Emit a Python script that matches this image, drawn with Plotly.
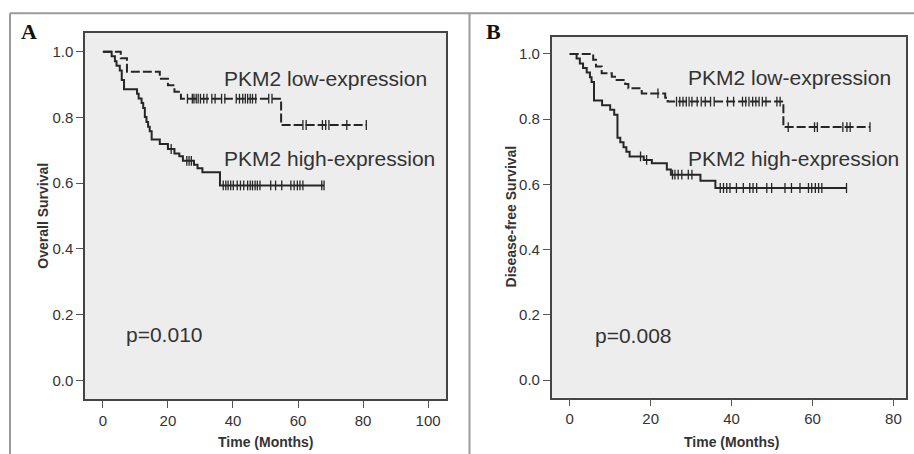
import plotly.graph_objects as go

# ---------------- data ----------------
# Panel A: Overall survival
lowA_event_t = [5.5, 7.4, 17.5, 20.0, 22.0, 24.0, 54.8]
lowA_event_s = [0.980, 0.939, 0.918, 0.898, 0.878, 0.857, 0.777]
lowA_end = 81.0
lowA_censor = [26.0, 27.5, 28.0, 28.7, 29.3, 30.0, 31.0, 32.0, 33.5, 34.5, 36.5, 37.5,
               41.0, 42.0, 43.0, 43.8, 44.5, 45.3, 46.0, 47.0, 51.0, 52.0,
               61.5, 62.5, 67.5, 68.5, 69.5, 75.0, 81.0]

highA_event_t = [2.7, 3.7, 4.2, 5.2, 5.8, 6.5, 10.5, 11.0, 11.9, 12.4, 12.9, 13.4, 13.9, 14.4, 15.0,
                 17.5, 20.0, 22.0, 23.5, 24.6, 28.0, 29.1, 30.6, 36.0]
highA_event_s = [0.986, 0.971, 0.957, 0.943, 0.914, 0.886, 0.872, 0.858, 0.844, 0.829, 0.801, 0.786,
                 0.772, 0.758, 0.733, 0.719, 0.704, 0.690, 0.682, 0.668, 0.656, 0.645, 0.633, 0.593]
highA_end = 68.0
highA_censor = [21.0, 25.8, 26.5, 27.2, 37.0, 37.8, 38.5, 39.3, 40.1, 41.3, 42.3, 43.3, 44.5, 45.3,
                46.0, 46.8, 47.5, 48.3, 51.6, 53.1, 55.0, 57.8, 58.8, 59.8, 60.6, 61.5, 67.3, 68.0]

# Panel B: Disease-free survival
lowB_event_t = [5.8, 6.5, 7.9, 10.4, 11.2, 13.7, 14.5, 17.8, 23.6, 24.2, 52.8]
lowB_event_s = [0.982, 0.962, 0.941, 0.930, 0.920, 0.908, 0.895, 0.879, 0.866, 0.854, 0.776]
lowB_end = 74.2
lowB_censor = [21.8, 26.4, 27.2, 28.0, 28.8, 29.5, 30.2, 31.5, 32.5, 33.5, 34.8, 35.7, 39.0, 40.5,
               42.7, 43.5, 44.3, 45.2, 46.0, 46.8, 47.6, 48.5, 51.2, 52.0,
               54.0, 60.5, 61.2, 67.5, 68.5, 69.3, 74.2]

highB_event_t = [1.7, 2.5, 3.3, 4.2, 5.0, 5.4, 6.0, 8.0, 10.0, 11.0, 11.8, 12.5, 13.3, 14.0, 14.8,
                 18.3, 20.3, 24.0, 25.0, 32.3, 36.0]
highB_event_s = [0.986, 0.971, 0.957, 0.943, 0.929, 0.914, 0.857, 0.843, 0.829, 0.814, 0.743, 0.729,
                 0.714, 0.700, 0.686, 0.675, 0.665, 0.646, 0.630, 0.611, 0.589]
highB_end = 68.4
highB_censor = [17.5, 19.0, 25.4, 26.0, 26.8, 27.7, 29.3, 30.2, 37.2, 38.0, 38.8, 39.6, 41.2, 42.9,
                44.5, 45.3, 46.2, 48.7, 49.9, 53.2, 54.8, 56.9, 59.0, 59.8, 60.7, 61.5, 62.3, 68.4]

x_ticks_A = [0, 20, 40, 60, 80, 100]
x_ticks_B = [0, 20, 40, 60, 80]
y_ticks = [0.0, 0.2, 0.4, 0.6, 0.8, 1.0]

label_low = "PKM2 low-expression"
label_high = "PKM2 high-expression"
p_A = "p=0.010"
p_B = "p=0.008"

# ---------------- helpers ----------------
def step_xy(ts, ss, end):
    xs = [0.0] + list(ts) + [end]
    ys = [1.0] + list(ss) + [ss[-1]]
    return xs, ys

def surv_at(t, ts, ss):
    s = 1.0
    for ti, si in zip(ts, ss):
        if t >= ti:
            s = si
    return s

W, H = 914, 454
LINE = "#262626"
fig = go.Figure()

def add_curve(ts, ss, end, cens, dash, xa, ya):
    xs, ys = step_xy(ts, ss, end)
    fig.add_trace(go.Scatter(x=xs, y=ys, mode="lines", line=dict(shape="hv", color=LINE, width=2, dash=dash),
                             xaxis=xa, yaxis=ya, showlegend=False, hoverinfo="skip"))
    fig.add_trace(go.Scatter(x=cens, y=[surv_at(c, ts, ss) for c in cens], mode="markers",
                             marker=dict(symbol="line-ns", size=7, line=dict(color=LINE, width=1.3)),
                             xaxis=xa, yaxis=ya, showlegend=False, hoverinfo="skip"))

add_curve(lowA_event_t, lowA_event_s, lowA_end, lowA_censor, "9px,3px", "x", "y")
add_curve(highA_event_t, highA_event_s, highA_end, highA_censor, "solid", "x", "y")
add_curve(lowB_event_t, lowB_event_s, lowB_end, lowB_censor, "9px,3px", "x2", "y2")
add_curve(highB_event_t, highB_event_s, highB_end, highB_censor, "solid", "x2", "y2")

FONT = "Liberation Sans, Arial, sans-serif"
axis_common = dict(showline=True, mirror=True, linecolor="#444444", linewidth=1.5, ticks="outside",
                   ticklen=7, tickwidth=1.2, tickcolor="#555555", showgrid=False, zeroline=False,
                   tickfont=dict(family=FONT, size=15, color="#333333"))

def px_x(p):
    return p / W

def px_y(p):
    return 1 - p / H

fig.update_layout(
    width=W, height=H, margin=dict(l=0, r=0, t=0, b=0),
    paper_bgcolor="#ffffff", plot_bgcolor="#ededed",
    xaxis=dict(domain=[px_x(85), px_x(446)], range=[-5.5, 105.5], tickvals=x_ticks_A, anchor="y", **axis_common),
    yaxis=dict(domain=[px_y(399), px_y(33)], range=[-0.057, 1.057], tickvals=y_ticks, tickformat=".1f", anchor="x", **axis_common),
    xaxis2=dict(domain=[px_x(551.7), px_x(906)], range=[-4.45, 83.1], tickvals=x_ticks_B, anchor="y2", **axis_common),
    yaxis2=dict(domain=[px_y(397.7), px_y(36.7)], range=[-0.054, 1.053], tickvals=y_ticks, tickformat=".1f", anchor="x2", **axis_common),
)

ann = []
txt = dict(family=FONT, size=21, color="#333333")
for xr, yr, xl, yl, yh, xp, yp, ptxt in [("x", "y", 36.6, 0.92, 0.676, 6.5, 0.138, p_A),
                                          ("x2", "y2", 28.7, 0.927, 0.681, 5.8, 0.138, p_B)]:
    ann.append(dict(xref=xr, yref=yr, x=xl, y=yl, text=label_low, showarrow=False, xanchor="left", yanchor="middle", font=txt))
    ann.append(dict(xref=xr, yref=yr, x=xl, y=yh, text=label_high, showarrow=False, xanchor="left", yanchor="middle", font=txt))
    ann.append(dict(xref=xr, yref=yr, x=xp, y=yp, text=ptxt, showarrow=False, xanchor="left", yanchor="middle", font=txt))

title_font = dict(family=FONT, size=14, color="#333333")
ann.append(dict(xref="paper", yref="paper", x=px_x(265.5), y=px_y(442), text="<b>Time (Months)</b>", showarrow=False,
                xanchor="center", yanchor="middle", font=title_font))
ann.append(dict(xref="paper", yref="paper", x=px_x(731.5), y=px_y(442), text="<b>Time (Months)</b>", showarrow=False,
                xanchor="center", yanchor="middle", font=title_font))
ann.append(dict(xref="paper", yref="paper", x=px_x(42.7), y=px_y(216), text="<b>Overall Survival</b>", showarrow=False,
                textangle=-90, xanchor="center", yanchor="middle", font=dict(family=FONT, size=14, color="#333333")))
ann.append(dict(xref="paper", yref="paper", x=px_x(510.7), y=px_y(216.7), text="<b>Disease-free Survival</b>", showarrow=False,
                textangle=-90, xanchor="center", yanchor="middle", font=dict(family=FONT, size=14, color="#333333")))
pan_font = dict(family="Liberation Serif, Times New Roman, serif", size=22, color="#111111")
ann.append(dict(xref="paper", yref="paper", x=px_x(28.5), y=px_y(32), text="<b>A</b>", showarrow=False,
                xanchor="center", yanchor="middle", font=pan_font))
ann.append(dict(xref="paper", yref="paper", x=px_x(493.5), y=px_y(32), text="<b>B</b>", showarrow=False,
                xanchor="center", yanchor="middle", font=pan_font))
fig.update_layout(annotations=ann)

frame = dict(color="#9a9a9a", width=2)
fig.update_layout(shapes=[
    dict(type="line", xref="paper", yref="paper", x0=px_x(10), x1=1, y0=px_y(13.3), y1=px_y(13.3), line=frame),
    dict(type="line", xref="paper", yref="paper", x0=px_x(10), x1=px_x(10), y0=0, y1=px_y(13.3), line=frame),
    dict(type="line", xref="paper", yref="paper", x0=px_x(469.5), x1=px_x(469.5), y0=0, y1=px_y(13.3), line=frame),
])

fig.write_html("out.html", config={"displayModeBar": False},
               post_script="document.body.style.margin='0';document.body.style.overflow='hidden';")
